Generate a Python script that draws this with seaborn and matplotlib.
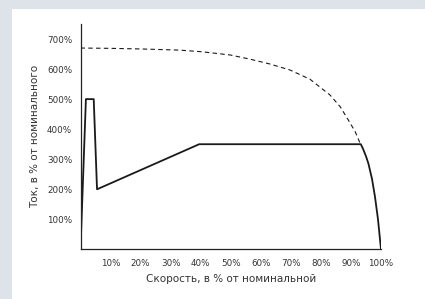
import numpy as np
import pandas as pd
import matplotlib
matplotlib.use("Agg")
import matplotlib.pyplot as plt
from matplotlib.patches import Rectangle
import seaborn as sns

# solid curve: actual current vs speed
speed_solid = [0, 1.8, 4.4, 5.5, 39.5, 93.3, 94, 95, 95.8, 97, 98, 99, 100]
current_solid = [0, 500, 500, 200, 350, 350, 335, 310, 286, 235, 175, 100, 0]

# dashed curve: direct-on-line current
speed_dash = [0, 10, 20, 33, 40, 49.8, 56.4, 63, 69.7, 76.4, 83, 86.4, 89.1, 91.4, 92.5, 93.2]
current_dash = [670, 669, 667, 663, 658, 647, 633, 617, 597, 566, 514, 475, 431, 392, 366, 350]

x_ticks = [10, 20, 30, 40, 50, 60, 70, 80, 90, 100]
y_ticks = [100, 200, 300, 400, 500, 600, 700]

x_label = "Скорость, в % от номинальной"
y_label = "Ток, в % от номинального"

sns.set_style("white")
plt.rcParams['font.family'] = ['DejaVu Sans']

fig = plt.figure(figsize=(4.25, 2.99), dpi=100)
fig.patch.set_facecolor("#dde3e9")
fig.patches.append(Rectangle((12 / 425, 0), 1 - 12 / 425, 290 / 299,
                             transform=fig.transFigure, facecolor="white",
                             edgecolor="none", zorder=-10))

ax = fig.add_axes([80.5 / 425, (299 - 249.4) / 299, 300.5 / 425, 225.4 / 299])
ax.set_facecolor("none")

df_solid = pd.DataFrame({"speed": speed_solid, "current": current_solid})
df_dash = pd.DataFrame({"speed": speed_dash, "current": current_dash})

sns.lineplot(data=df_solid, x="speed", y="current", ax=ax, color="#1a1a1a",
             linewidth=1.3, sort=False)
sns.lineplot(data=df_dash, x="speed", y="current", ax=ax, color="#1a1a1a",
             linewidth=0.8, linestyle=(0, (4, 3)), sort=False)

ax.set_xlim(0, 100)
ax.set_ylim(0, 750)
ax.set_xticks(x_ticks)
ax.set_xticklabels([f"{t}%" for t in x_ticks])
ax.set_yticks(y_ticks)
ax.set_yticklabels([f"{t}%" for t in y_ticks])

ax.tick_params(axis="both", direction="out", length=4, width=0.8, color="#333333",
               labelsize=6.3, labelcolor="#333333")
ax.tick_params(axis="x", pad=3)
ax.tick_params(axis="y", pad=2)

for side in ["top", "right"]:
    ax.spines[side].set_visible(False)
for side in ["left", "bottom"]:
    ax.spines[side].set_color("#222222")
    ax.spines[side].set_linewidth(0.9)

ax.set_xlabel(x_label, fontsize=7.5, color="#333333", labelpad=4)
ax.set_ylabel(y_label, fontsize=7.5, color="#333333", labelpad=5)

fig.savefig("out.png", dpi=100, facecolor=fig.get_facecolor())
